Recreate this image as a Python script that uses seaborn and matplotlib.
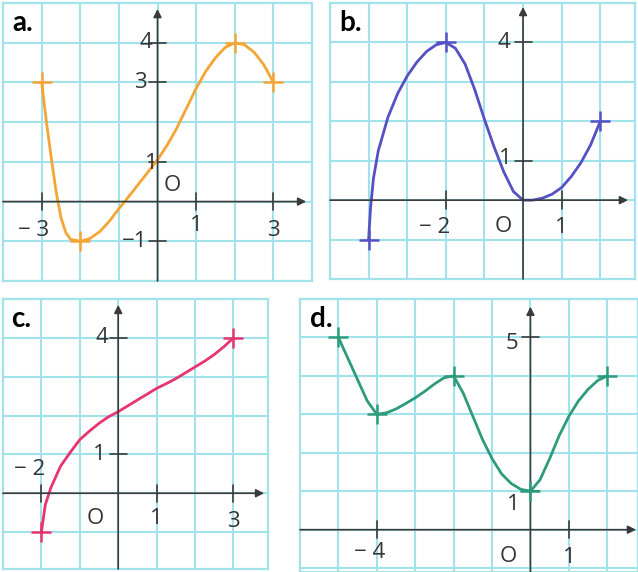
import matplotlib
matplotlib.use("Agg")
import matplotlib.pyplot as plt
import seaborn as sns
import pandas as pd
import math

sns.set_style("white")
plt.rcParams['font.family'] = ['Open Sans', 'DejaVu Sans']

# ---- data ----
a_x = [-3, -2.875, -2.75, -2.625, -2.5, -2.375, -2.25, -2.0, -1.75, -1.5, -1.25, -1.0, -0.75,
       -0.5, -0.25, 0, 0.25, 0.5, 0.75, 1.0, 1.25, 1.5, 1.75, 2.0, 2.25, 2.5, 2.75, 3.0]
a_y = [3.0, 2.0, 1.1, 0.25, -0.4, -0.78, -0.95, -1.0, -0.93, -0.76, -0.5, -0.18, 0.12,
       0.43, 0.74, 1.05, 1.42, 1.85, 2.35, 2.85, 3.28, 3.62, 3.88, 4.0, 3.95, 3.76, 3.45, 3.0]
a_marks_x = [-3, -2, 2, 3]
a_marks_y = [3, -1, 4, 3]

b_x = [-4, -3.95, -3.875, -3.75, -3.5, -3.25, -3.0, -2.75, -2.5, -2.25, -2.0, -1.75, -1.5,
       -1.25, -1.0, -0.75, -0.5, -0.25, 0, 0.25, 0.5, 0.75, 1.0, 1.25, 1.5, 1.75, 2.0]
b_y = [-1.0, -0.2, 0.55, 1.25, 2.1, 2.7, 3.15, 3.5, 3.77, 3.94, 4.0, 3.85, 3.45,
       2.8, 2.05, 1.35, 0.72, 0.22, 0.0, 0.0, 0.05, 0.15, 0.32, 0.6, 0.95, 1.4, 2.0]
b_marks_x = [-4, -2, 2]
b_marks_y = [-1, 4, 2]

c_x = [-2, -1.9, -1.8, -1.75, -1.5, -1.25, -1.0, -0.75, -0.5, -0.25, 0, 0.25, 0.5, 0.75,
       1.0, 1.25, 1.5, 1.75, 2.0, 2.25, 2.5, 2.75, 3.0]
c_y = [-1.0, -0.3, 0.0, 0.15, 0.7, 1.05, 1.38, 1.6, 1.8, 1.97, 2.1, 2.25, 2.4, 2.55,
       2.7, 2.82, 2.95, 3.1, 3.25, 3.4, 3.57, 3.77, 4.0]
c_marks_x = [-2, 3]
c_marks_y = [-1, 4]

d_x = [-5, -4.75, -4.5, -4.25, -4.0, -3.75, -3.5, -3.25, -3.0, -2.75, -2.5, -2.25, -2.0,
       -1.75, -1.5, -1.25, -1.0, -0.75, -0.5, -0.25, 0, 0.25, 0.5, 0.75, 1.0, 1.25, 1.5, 1.75, 2.0]
d_y = [5.0, 4.45, 3.9, 3.35, 3.0, 3.04, 3.14, 3.28, 3.43, 3.6, 3.79, 3.95, 4.0,
       3.55, 2.95, 2.35, 1.85, 1.45, 1.2, 1.05, 1.0, 1.3, 1.85, 2.45, 2.95, 3.35, 3.65, 3.88, 4.0]
d_marks_x = [-5, -4, -2, 0, 2]
d_marks_y = [5, 3, 4, 1, 4]

W, H = 638, 572
fig = plt.figure(figsize=(W / 100, H / 100), dpi=100)

GRID = '#a2e2ea'
AXC = '#3a3a3a'
TXT = '#333333'


def make_ax(px0, px1, py0, py1, xlim, ylim):
    ax = fig.add_axes([px0 / W, 1 - py1 / H, (px1 - px0) / W, (py1 - py0) / H])
    ax.set_xlim(*xlim)
    ax.set_ylim(*ylim)
    ax.set_xticks(range(math.ceil(xlim[0]), math.floor(xlim[1]) + 1))
    ax.set_yticks(range(math.ceil(ylim[0]), math.floor(ylim[1]) + 1))
    ax.tick_params(length=0, labelbottom=False, labelleft=False)
    ax.grid(True, color=GRID, lw=1.5)
    ax.set_axisbelow(True)
    for s in ax.spines.values():
        s.set_color(GRID)
        s.set_linewidth(1.6)
    return ax


def axes_arrows(ax, x_end, y_end):
    x0 = ax.get_xlim()[0]
    y0 = ax.get_ylim()[0]
    ax.annotate('', xy=(x_end, 0), xytext=(x0, 0),
                arrowprops=dict(arrowstyle='-|>', color=AXC, lw=1.2,
                                mutation_scale=12, shrinkA=0, shrinkB=0))
    ax.annotate('', xy=(0, y_end), xytext=(0, y0),
                arrowprops=dict(arrowstyle='-|>', color=AXC, lw=1.2,
                                mutation_scale=12, shrinkA=0, shrinkB=0))


def ticks(ax, xs, ys):
    for x in xs:
        ax.plot([x, x], [-0.22, 0.22], color=AXC, lw=1.2)
    for y in ys:
        ax.plot([-0.22, 0.22], [y, y], color=AXC, lw=1.2)


def curve(ax, xs, ys, mx, my, color):
    df = pd.DataFrame({'x': xs, 'y': ys})
    sns.lineplot(data=df, x='x', y='y', ax=ax, color=color, lw=2.0, sort=False)
    dm = pd.DataFrame({'x': mx, 'y': my})
    sns.scatterplot(data=dm, x='x', y='y', ax=ax, marker='+', s=200,
                    color=color, linewidth=1.8, zorder=5)
    ax.set_xlabel('')
    ax.set_ylabel('')


def lab(ax, x, y, s, size=16):
    ax.text(x, y, s, ha='center', va='center', fontsize=size, color=TXT)


def panel_label(ax, s):
    ax.text(0.03, 0.975, s, transform=ax.transAxes, ha='left', va='top',
            fontsize=20, fontweight='bold', color='black', family=['Lato', 'DejaVu Sans'],
            bbox=dict(facecolor='white', edgecolor='none', pad=1.0))


# ---- panel a ----
ax = make_ax(3, 312, 3, 281, (-4, 4), (-2, 5))
axes_arrows(ax, 3.85, 4.85)
ticks(ax, [-3, 1, 3], [4, 3, 1, -1])
curve(ax, a_x, a_y, a_marks_x, a_marks_y, '#f4a536')
lab(ax, -3.2, -0.72, '\u2212 3')
lab(ax, 1.0, -0.6, '1')
lab(ax, 3.0, -0.72, '3')
lab(ax, -0.3, 4.0, '4')
lab(ax, -0.45, 3.0, '3')
lab(ax, -0.15, 0.95, '1')
lab(ax, -0.58, -1.0, '\u22121')
lab(ax, 0.38, 0.4, 'O')
panel_label(ax, 'a.')

# ---- panel b ----
ax = make_ax(330, 635, 3, 279, (-5, 2.9), (-2, 5))
axes_arrows(ax, 2.72, 4.9)
ticks(ax, [-2, 1], [4, 1])
curve(ax, b_x, b_y, b_marks_x, b_marks_y, '#5550c4')
lab(ax, -2.3, -0.7, '\u2212 2')
lab(ax, -0.5, -0.68, 'O')
lab(ax, 1.0, -0.7, '1')
lab(ax, -0.5, 4.0, '4')
lab(ax, -0.47, 1.05, '1')
panel_label(ax, 'b.')

# ---- panel c ----
ax = make_ax(3, 268, 299, 569, (-3, 3.9), (-1.95, 5))
axes_arrows(ax, 3.8, 4.85)
ticks(ax, [-2, 1, 3], [4, 1])
curve(ax, c_x, c_y, c_marks_x, c_marks_y, '#e83572')
lab(ax, -2.3, 0.62, '\u2212 2')
lab(ax, -0.6, -0.65, 'O')
lab(ax, 1.0, -0.65, '1')
lab(ax, 3.0, -0.72, '3')
lab(ax, -0.43, 4.0, '4')
lab(ax, -0.5, 1.0, '1')
panel_label(ax, 'c.')

# ---- panel d ----
ax = make_ax(300, 638, 299, 572, (-6, 2.8), (-1.1, 6))
axes_arrows(ax, 2.75, 5.8)
ticks(ax, [-4, 1], [5, 1])
curve(ax, d_x, d_y, d_marks_x, d_marks_y, '#2e9c7c')
lab(ax, -4.2, -0.6, '\u2212 4')
lab(ax, -0.57, -0.7, 'O')
lab(ax, 1.0, -0.72, '1')
lab(ax, -0.47, 4.85, '5')
lab(ax, -0.45, 0.65, '1')
panel_label(ax, 'd.')

fig.savefig('out.png', dpi=100, facecolor='white')
